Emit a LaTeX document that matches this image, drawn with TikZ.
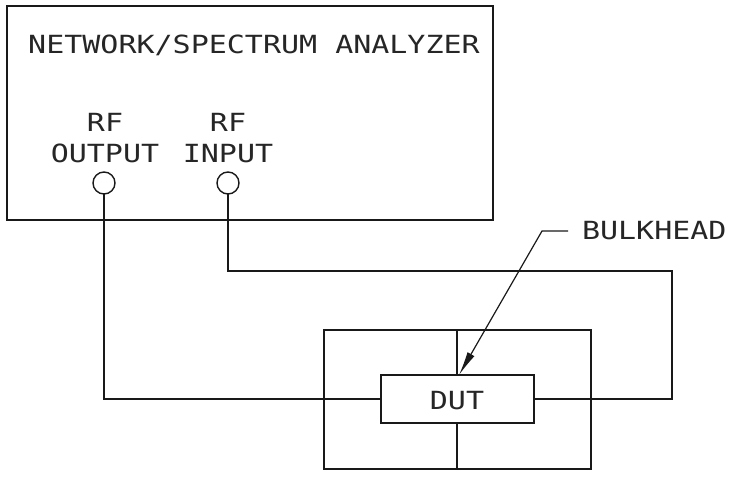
\documentclass[tikz,border=0pt]{standalone}
\usepackage{fontspec}
\usetikzlibrary{arrows.meta,calc}
\newfontfamily\cadfont{DejaVu Sans Mono}[FakeStretch=1.2]
\begin{document}
\begin{tikzpicture}[x=1pt,y=-1pt,
  every node/.style={inner sep=0pt,outer sep=0pt},
  wire/.style={line width=2pt,draw=black!90},
  boxed/.style={draw=black!90,line width=2pt,rectangle,fill=none},
  port/.style={draw=black!90,line width=1.4pt,circle,minimum size=22pt},
  lbl/.style={font=\cadfont\fontsize{25}{30}\selectfont,text=black!85,anchor=base},
  leader/.style={line width=1.2pt,draw=black!90,-{Latex[length=24pt,width=8pt]}}]
\useasboundingbox (0,0) rectangle (735,478);
% analyzer
\node[boxed,minimum width=486pt,minimum height=214pt] (ana) at (250,113) {};
\node[lbl] (title) at (254,54) {NETWORK/SPECTRUM ANALYZER};
\node[lbl] (rf1) at (105,132) {RF};
\node[lbl] (outl) at (105,163) {OUTPUT};
\node[lbl] (rf2) at (228,132) {RF};
\node[lbl] (inl) at (228,163) {INPUT};
\node[port] (out) at (104,183) {};
\node[port] (in) at (228,183) {};
% bulkhead and DUT
\node[boxed,minimum width=267pt,minimum height=139pt] (bh) at (457,399.5) {};
\node[boxed,fill=white,minimum width=153pt,minimum height=48pt] (dut) at (457,399) {};
\node[lbl] (dutl) at (457,409) {DUT};
\draw[wire] (bh.north) -- (dut.north);
\draw[wire] (dut.south) -- (bh.south);
% connectors
\coordinate (c1) at (672,271);
\draw[wire] (out.south) |- (dut.west);
\draw[wire] (in.south) |- (c1) |- (dut.east);
% bulkhead label
\node[lbl,anchor=base west] (bhl) at (582,240) {BULKHEAD};
\coordinate (l1) at (568,231);
\coordinate (l2) at (542,231);
\coordinate (tip) at ($(dut.north)+(2,0)$);
\draw[leader] (l1) -- (l2) -- (tip);
\end{tikzpicture}
\end{document}
